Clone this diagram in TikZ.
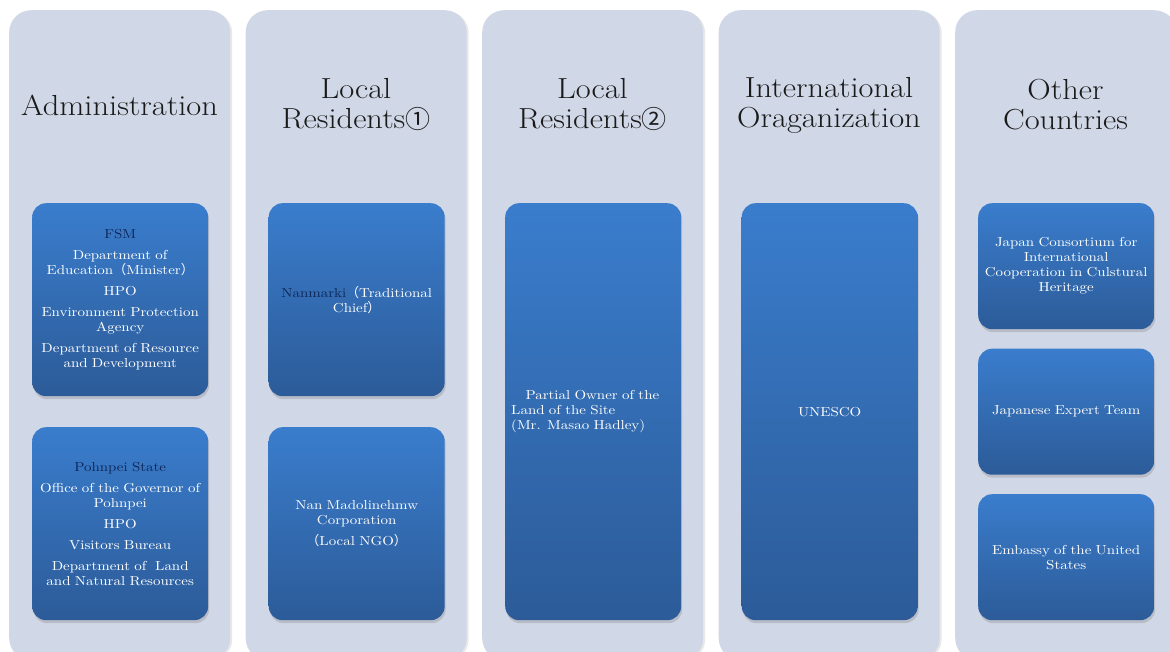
\documentclass[tikz,border=0pt]{standalone}
\usepackage{fontspec}
\newfontfamily\cjk{Noto Sans CJK JP}
\newfontfamily\bodyfont{lmroman10-regular}[Extension=.otf, FakeStretch=1.15]
\newfontfamily\headfont{lmroman17-regular}[Extension=.otf, FakeStretch=1.12]
\usetikzlibrary{shadows}
\definecolor{colbg}{HTML}{D0D7E6}
\definecolor{boxtop}{HTML}{3A7DCD}
\definecolor{boxbot}{HTML}{2C5B98}
\definecolor{navy}{HTML}{0E2657}
\definecolor{titlecol}{HTML}{1A1A1A}
\newcommand{\circnum}[1]{{\cjk\fontsize{25}{30}\selectfont #1}}
\newcommand{\lp}{{\cjk （}}
\newcommand{\rp}{{\cjk ）}}
\begin{document}
\begin{tikzpicture}[x=1pt,y=-1pt,
  column/.style={fill=colbg, rounded corners=22pt, minimum width=221pt, minimum height=650pt,
    inner sep=0pt, anchor=north west, draw=none,
    drop shadow={opacity=0.18, shadow xshift=2pt, shadow yshift=-1pt}},
  coltitle/.style={font=\headfont\fontsize{29}{30}\selectfont, text=titlecol, align=center, inner sep=0pt},
  bluebox/.style={rounded corners=14pt, top color=boxtop, bottom color=boxbot, draw=none,
    text=white, font=\bodyfont\fontsize{13}{15}\selectfont, align=center, text width=170pt,
    inner xsep=3pt, inner ysep=0pt, minimum width=176pt, anchor=north west,
    drop shadow={opacity=0.3, shadow xshift=1pt, shadow yshift=-3pt}},
  tallbox/.style={bluebox, minimum height=193pt},
  fullbox/.style={bluebox, minimum height=417pt},
  smallbox/.style={bluebox, minimum height=126pt}
]
\useasboundingbox (0,0) rectangle (1170,652);
\fill[white] (0,0) rectangle (1170,652);

% columns
\node[column] (c1) at (9,10) {};
\node[column] (c2) at (245.5,10) {};
\node[column] (c3) at (482,10) {};
\node[column] (c4) at (718.5,10) {};
\node[column] (c5) at (955,10) {};

% titles
\node[coltitle] (t1) at (119.5,105) {Administration};
\node[coltitle] (t2) at (356,105) {Local\\Residents\circnum{①}};
\node[coltitle] (t3) at (592.5,105) {Local\\Residents\circnum{②}};
\node[coltitle] (t4) at (829,105) {International\\Oraganization};
\node[coltitle] (t5) at (1065.5,105) {Other\\Countries};

% column 1
\node[tallbox] (b11) at (32,203) {{\color{navy}FSM}\\[6pt]
  Department of\\Education\lp Minister\rp\\[6pt]
  HPO\\[6pt]
  Environment Protection\\Agency\\[6pt]
  Department of Resource\\and Development};
\node[tallbox] (b12) at (32,427) {{\color{navy}Pohnpei State}\\[6pt]
  Office of the Governor of\\Pohnpei\\[6pt]
  HPO\\[6pt]
  Visitors Bureau\\[6pt]
  Department of\ \ Land\\and Natural Resources};

% column 2
\node[tallbox] (b21) at (268.5,203) {{\color{navy}Nanmarki}\lp Traditional\\Chief\rp};
\node[tallbox] (b22) at (268.5,427) {Nan Madolinehmw\\Corporation\\[6pt]\lp Local NGO\rp};

% column 3
\node[fullbox, align=left, text width=164pt, inner xsep=6pt] (b31) at (505,203)
  {\hspace{1.1em}Partial Owner of the\\Land of the Site\\(Mr. Masao Hadley)};

% column 4
\node[fullbox] (b41) at (741.5,203) {UNESCO};

% column 5
\node[smallbox] (b51) at (978,203) {Japan Consortium for\\International\\Cooperation in Culstural\\Heritage};
\node[smallbox] (b52) at (978,348.5) {Japanese Expert Team};
\node[smallbox] (b53) at (978,494) {Embassy of the United\\States};
\end{tikzpicture}
\end{document}
